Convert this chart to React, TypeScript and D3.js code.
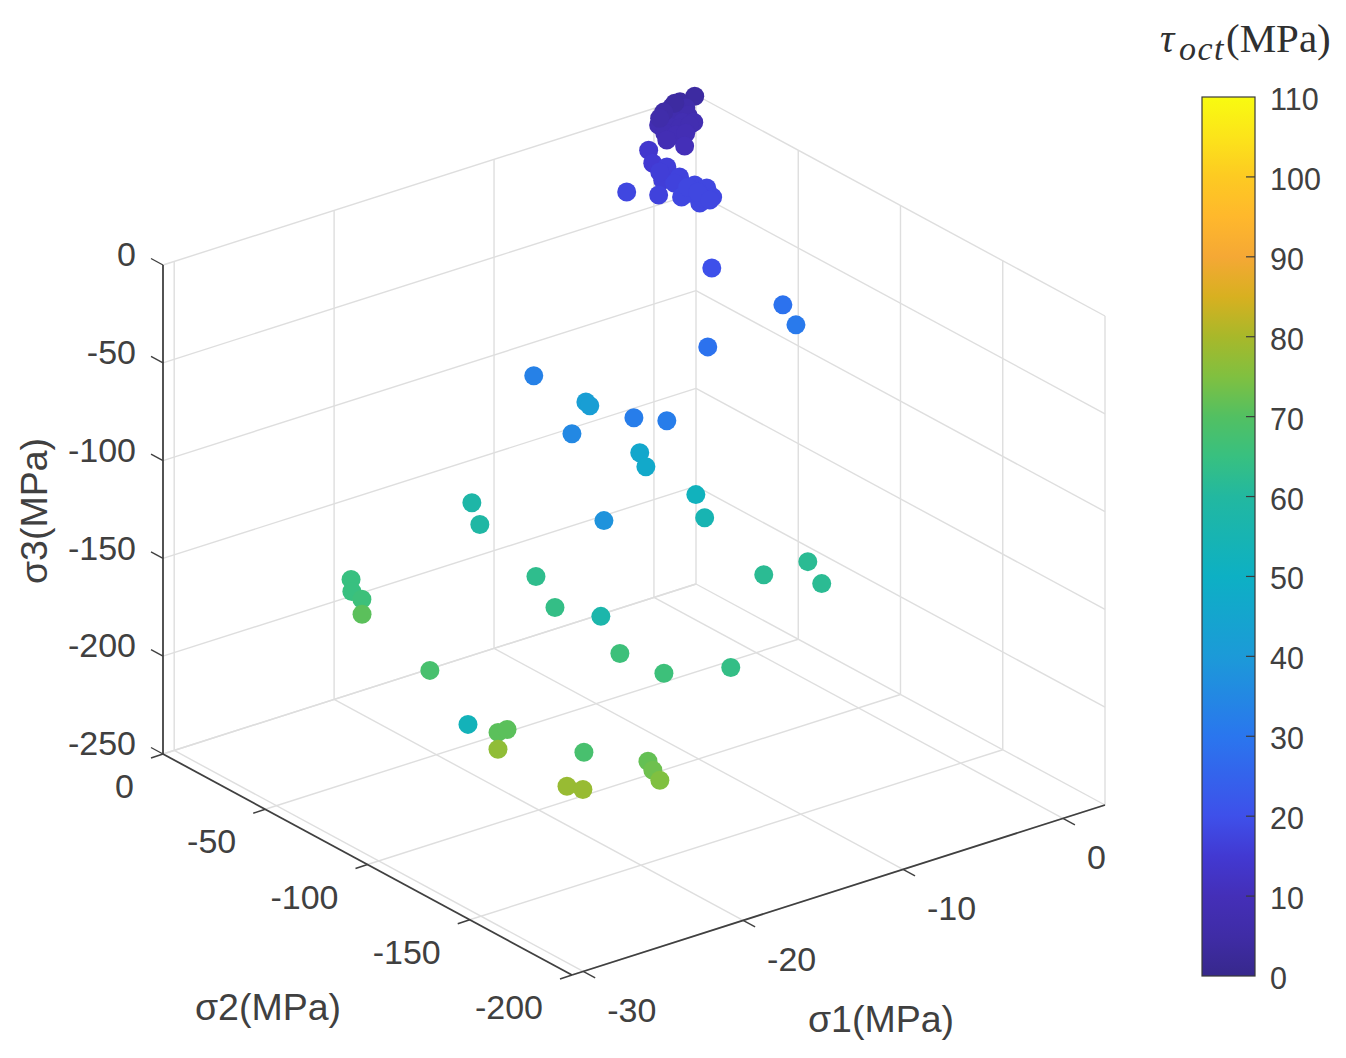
import { useEffect, useRef } from 'react'
import * as d3 from 'd3'

const WIDTH = 1346
const HEIGHT = 1058
const SANS = '"Liberation Sans", Arial, sans-serif'
const SERIF = '"Liberation Serif", serif'
const TEXT = '#404040'
const GRID = '#dedede'

// values (MPa)
const sigma1 = [
  2.5, 1.5, 0.8, 1.3, 0.8, 0.3, 1.3, 0, 0.3, 0.8, 1.3, 0, 0, 0.3, 0.8, -0.5, 0, 0.3, -0.5, 0, 1.3, 0.2, 0,
  -0.7, -0.7, -0.7, -1.2, -0.7, -0.7, -0.7, -0.7, -1.2, -1.2, -1.2, -0.7, -1.2, -1.7, -3.2, -0.7, -0.7, -1.2, -0.7,
  -2.7, -4.7, -4.7, -5.7, -15.7, -14, -14, -10, -10, -15, -12, -12, -10, -10, -18, -22, -22,
  -20, -10, -8, -8, -26, -26, -26, -27, -20, -18, -18, -16, -12, -24, -27, -27, -27, -29, -22, -21, -21, -21, -27, -27,
]
const sigma2 = [
  -0.4, -1, -2.4, -5.4, -5.4, -4.9, -6.4, -4.8, -7.8, -7.8, -9.3, -2.3, -7.7, -10.3, -11.2, -9.2, -10.7, -13.2, -10.2, -15, 0, -3.2, -2.8,
  -2.9, -4.9, -11.8, -13.7, -18, -15.6, -25.4, -31.3, -38.1, -31.8, -33.3, -23, -22.9, -15.6, -11.7, -22, -26.9, -36.7, -8.3,
  -49.4, -99.8, -106.2, -70.9, -64, -76.2, -78.1, -68.4, -84.5, -77.2, -86.9, -89.9, -98.7, -103, -116.3, -83, -86.9,
  -98.7, -131.9, -137.8, -144.6, -55.2, -55.6, -60.5, -68.4, -108, -114.8, -124.1, -130, -131.4, -78.1, -120.2, -134.9, -139.3, -150.5, -137.8, -161.3, -163.7, -167.1, -168.6, -176.4,
]
const sigma3 = [
  -0.1, 0, -0.1, 0, -1.4, -1.5, -3.2, -3.3, -2.4, -4.7, -5.2, -7.2, -5.2, -5.1, -4.3, -6.1, -7.6, -6, -9.1, -10.8, -0.7, -0.6, -3.4,
  -17.9, -23.4, -21.5, -25.8, -23.1, -27.6, -23, -21.2, -20.7, -27.3, -23.9, -28.5, -29.2, -31, -27.8, -26, -25.8, -23, -26,
  -46.6, -31.8, -38.4, -67, -59.6, -70.5, -71.4, -93.4, -85.9, -83.6, -95.7, -101.1, -115.6, -125, -98.1, -97.3, -106.3,
  -131.4, -137.8, -133, -140.4, -141.8, -147.8, -149, -149.6, -142, -147.9, -161.6, -173.6, -180.3, -180.6, -176.6, -172.4, -168.4, -167, -193.9, -187.9, -191.1, -194.3, -180.9, -178.1,
]
const tauOct = [
  4, 4, 5, 6, 6, 6, 7, 7, 7, 8, 8, 8, 8, 8, 8, 8, 9, 9, 9, 10, 4, 5, 6,
  14, 15, 16, 16, 17, 17, 18, 18, 18, 18, 18, 18, 18, 17, 18, 18, 18, 18, 16,
  20, 29, 31, 29, 33, 42, 42, 32, 32, 35, 46, 47, 52, 55, 38, 58, 59,
  63, 62, 62, 62, 65, 65, 66, 71, 64, 57, 66, 66, 64, 68, 53, 71, 71, 77, 68, 72, 73, 75, 78, 78,
]

const sigma1Ticks = [-30, -20, -10, 0]
const sigma2Ticks = [0, -50, -100, -150, -200]
const sigma3Ticks = [0, -50, -100, -150, -200, -250]
const colorTicks = [0, 10, 20, 30, 40, 50, 60, 70, 80, 90, 100, 110]

// colour bar as it looks in the picture
const colorStops = [0, 5, 10, 15, 20, 30, 40, 50, 60, 65, 70, 75, 80, 85, 90, 95, 100, 105, 110]
const colorHex = [
  '#37288c', '#3f2ca6', '#442fb8', '#4239d2', '#3e50ea', '#2a76ee', '#1c9ad8', '#0db0c4',
  '#22b8a0', '#38c080', '#52c062', '#80c040', '#a8b82a', '#d8b020', '#f5a835', '#ffb82c', '#fdca22', '#fce41a', '#f8fb10',
]

// corners of the box on the page: left, front, right, and the height of the box
const CORNER = { x: 163, y: 754 }
const U_DIR = { x: 533, y: -170 }
const V_DIR = { x: 409, y: 221 }
const BOX_H = 489

export default function App() {
  const svgRef = useRef<SVGSVGElement>(null)

  useEffect(() => {
    if (!svgRef.current) return
    const svg = d3.select(svgRef.current)
    svg.selectAll('*').remove()

    const u = d3.scaleLinear().domain([-30.7, 2.63]).range([0, 1])
    const v = d3.scaleLinear().domain([0, -200]).range([0, 1])
    const w = d3.scaleLinear().domain([-250, 0]).range([0, BOX_H])

    const project = (s1: number, s2: number, s3: number): [number, number] => [
      CORNER.x + u(s1) * U_DIR.x + v(s2) * V_DIR.x,
      CORNER.y + u(s1) * U_DIR.y + v(s2) * V_DIR.y - w(s3),
    ]

    const s1Min = u.domain()[0]
    const s1Max = u.domain()[1]
    const seg = (a: [number, number], b: [number, number], color: string, width: number) =>
      svg.append('line')
        .attr('x1', a[0]).attr('y1', a[1])
        .attr('x2', b[0]).attr('y2', b[1])
        .attr('stroke', color)
        .attr('stroke-width', width)

    // Grid: left wall, right wall, floor
    sigma3Ticks.forEach((z) => {
      seg(project(s1Min, 0, z), project(s1Max, 0, z), GRID, 1.4)
      seg(project(s1Max, 0, z), project(s1Max, -200, z), GRID, 1.4)
    })
    sigma1Ticks.forEach((x) => {
      seg(project(x, 0, -250), project(x, 0, 0), GRID, 1.4)
      seg(project(x, 0, -250), project(x, -200, -250), GRID, 1.4)
    })
    sigma2Ticks.forEach((y) => {
      seg(project(s1Max, y, -250), project(s1Max, y, 0), GRID, 1.4)
      seg(project(s1Min, y, -250), project(s1Max, y, -250), GRID, 1.4)
    })

    // Axis lines
    seg(project(s1Min, 0, -250), project(s1Min, 0, 0), TEXT, 1.8)
    seg(project(s1Min, 0, -250), project(s1Min, -200, -250), TEXT, 1.8)
    seg(project(s1Min, -200, -250), project(s1Max, -200, -250), TEXT, 1.8)

    const label = (x: number, y: number, text: string, anchor: string, size = 34) =>
      svg.append('text')
        .attr('x', x)
        .attr('y', y)
        .attr('dy', '0.36em')
        .attr('text-anchor', anchor)
        .attr('font-family', SANS)
        .attr('font-size', size)
        .attr('fill', TEXT)
        .text(text)

    // Ticks and tick labels
    sigma3Ticks.forEach((z) => {
      const [px, py] = project(s1Min, 0, z)
      seg([px, py], [px - 12, py - 6.5], TEXT, 1.4)
      label(px - 27, py - 11, String(z), 'end')
    })
    sigma2Ticks.forEach((y) => {
      const [px, py] = project(s1Min, y, -250)
      seg([px, py], [px - 12, py + 4], TEXT, 1.4)
      label(px - 29, py + 32, String(y), 'end')
    })
    sigma1Ticks.forEach((x) => {
      const [px, py] = project(x, -200, -250)
      seg([px, py], [px + 12, py + 6.5], TEXT, 1.4)
      label(px + 24, py + 38, String(x), 'start')
    })

    // Axis titles
    label(268, 1006, 'σ2(MPa)', 'middle', 37.5)
    label(881, 1018, 'σ1(MPa)', 'middle', 37.5)
    label(0, 0, 'σ3(MPa)', 'middle', 37.5).attr('transform', 'translate(33,511) rotate(-90)')

    // Colours
    const color = d3.scaleLinear<string>().domain(colorStops).range(colorHex).interpolate(d3.interpolateRgb)

    // Points
    svg.append('g')
      .selectAll('circle')
      .data(d3.range(sigma1.length))
      .join('circle')
      .attr('cx', (i) => project(sigma1[i], sigma2[i], sigma3[i])[0])
      .attr('cy', (i) => project(sigma1[i], sigma2[i], sigma3[i])[1])
      .attr('r', 9.5)
      .attr('fill', (i) => color(tauOct[i]))

    // Colour bar
    const barX = 1202
    const barW = 53
    const barY = d3.scaleLinear().domain([0, 110]).range([976, 97])

    const grad = svg.append('defs').append('linearGradient')
      .attr('id', 'tau-bar')
      .attr('x1', 0).attr('y1', 1)
      .attr('x2', 0).attr('y2', 0)
    colorStops.forEach((s, i) => {
      grad.append('stop').attr('offset', s / 110).attr('stop-color', colorHex[i])
    })

    svg.append('rect')
      .attr('x', barX)
      .attr('y', barY(110))
      .attr('width', barW)
      .attr('height', barY(0) - barY(110))
      .attr('fill', 'url(#tau-bar)')
      .attr('stroke', '#3a3a3a')
      .attr('stroke-width', 1.2)

    colorTicks.forEach((t) => {
      if (t > 0 && t < 110) seg([barX + barW - 9, barY(t)], [barX + barW, barY(t)], '#3a3a3a', 1.2)
      label(barX + 68, barY(t) + 2, String(t), 'start', 30.5)
    })

    // Colour bar title
    const title = svg.append('text').attr('y', 52).attr('font-family', SERIF).attr('fill', '#303030')
    title.append('tspan').attr('x', 1160).attr('font-size', 40).attr('font-style', 'italic').text('τ')
    title.append('tspan').attr('x', 1179).attr('font-size', 34).attr('font-style', 'italic').attr('dy', 8)
      .attr('letter-spacing', 1.5).text('oct')
    title.append('tspan').attr('x', 1226).attr('font-size', 41).attr('dy', -8).text('(MPa)')
  }, [])

  return (
    <svg
      ref={svgRef}
      width={WIDTH}
      height={HEIGHT}
      style={{ position: 'absolute', left: 0, top: 0, background: '#fff' }}
    />
  )
}
